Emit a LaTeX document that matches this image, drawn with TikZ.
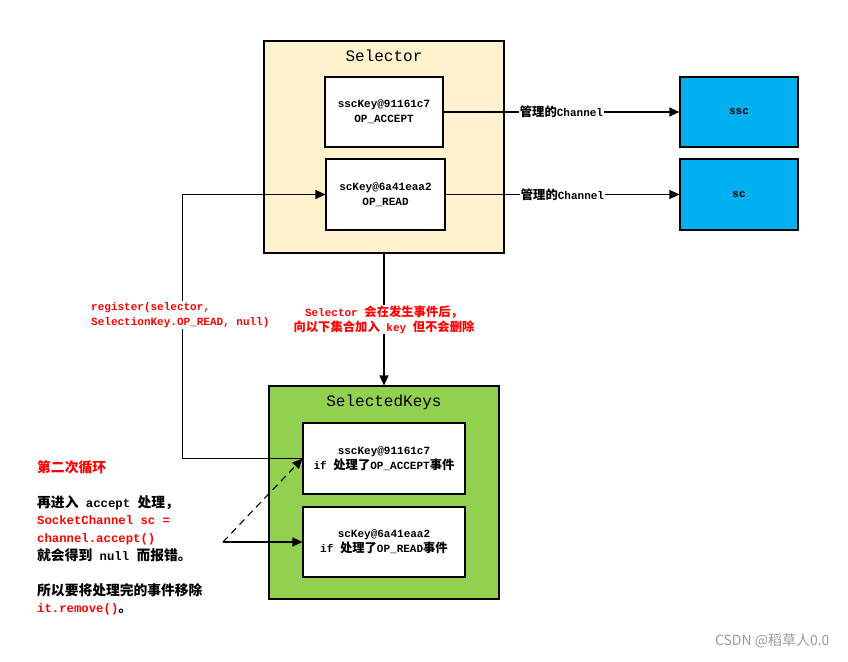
\documentclass[tikz,border=0pt]{standalone}
\usepackage{fontspec}
\setmainfont{Liberation Mono}
\newfontfamily\cjk{Noto Sans CJK SC}[Scale=1.12]
\newfontfamily\wmfont{Noto Sans CJK SC}
\usetikzlibrary{arrows.meta}
\definecolor{selbg}{HTML}{FFF2CC}
\definecolor{keysbg}{HTML}{92D050}
\definecolor{chbg}{HTML}{00B0F0}
\definecolor{redtxt}{HTML}{FF0000}
\newcommand\zh[1]{{\cjk #1}}
\begin{document}
\begin{tikzpicture}[x=1pt,y=-1pt,
  box/.style={draw=black, line width=1.1pt, inner sep=0pt},
  keybox/.style={box, fill=white, align=center, font=\fontsize{11}{15}\selectfont\bfseries},
  chbox/.style={box, fill=chbg, minimum width=118pt, minimum height=70pt, font=\fontsize{11}{15}\selectfont\bfseries},
  contbox/.style={box},
  ttl/.style={font=\fontsize{16}{18}\selectfont, inner sep=0pt},
  arr/.style={line width=1.1pt, -{Triangle[length=10pt,width=9pt]}},
  lbl/.style={fill=white, inner sep=1pt, font=\fontsize{11}{15}\selectfont\bfseries},
  redlbl/.style={fill=white, inner sep=1pt, text=redtxt, font=\fontsize{11}{15}\selectfont\bfseries},
]
\useasboundingbox (0,0) rectangle (848,661);

% Selector container
\node[contbox, fill=selbg, minimum width=240pt, minimum height=212pt] (sel) at (384,147) {};
\node[ttl] (seltitle) at (384,56) {Selector};
\node[keybox, minimum width=118pt, minimum height=70pt] (ssck) at (384,112) {sscKey@91161c7\\OP\_ACCEPT};
\node[keybox, minimum width=119pt, minimum height=71pt] (sck) at (385.5,194.5) {scKey@6a41eaa2\\OP\_READ};

% Channels
\node[chbox] (ssc) at (739,112) {ssc};
\node[chbox, minimum height=71pt] (sc) at (739,194.5) {sc};

% SelectedKeys container
\node[contbox, fill=keysbg, minimum width=230pt, minimum height=213pt] (selk) at (384,492.5) {};
\node[ttl] (selktitle) at (384,402) {SelectedKeys};
\node[keybox, minimum width=162pt, minimum height=71pt] (ssck2) at (384,458.5) {sscKey@91161c7\\if \zh{处理了}OP\_ACCEPT\zh{事件}};
\node[keybox, minimum width=162pt, minimum height=70pt] (sck2) at (384,542) {scKey@6a41eaa2\\if \zh{处理了}OP\_READ\zh{事件}};

% Channel arrows
\draw[arr] (ssck) -- node[lbl] {\zh{管理的}Channel} (ssc);
\draw[arr] (sck) -- node[lbl] {\zh{管理的}Channel} (sc);

% Selector -> SelectedKeys
\draw[arr] (sel) -- node[redlbl, align=center] {Selector \zh{会在发生事件后，}\\\zh{向以下集合加入} key \zh{但不会删除}} (selk);

% register loop
\draw[arr] (ssck2.west) -- ++(-120,0) coordinate (regcorner) |- (sck.west);
\node[redlbl, align=left, anchor=west] (reglbl) at (90,315) {register(selector,\\SelectionKey.OP\_READ, null)};

% note arrows
\coordinate (src) at (223,542);
\draw[arr, dash pattern=on 7pt off 5pt] (src) -- (ssck2.west);
\draw[arr] (src) -- (sck2.west);

% left note
\node[anchor=north west, align=left, inner sep=0pt, font=\fontsize{12.3}{17.6}\selectfont\bfseries] (note) at (37,460)
 {\textcolor{redtxt}{\zh{第二次循环}}\\[17.6pt]
  \zh{再进入} accept \zh{处理，}\\
  \textcolor{redtxt}{SocketChannel sc =}\\
  \textcolor{redtxt}{channel.accept()}\\
  \zh{就会得到} null \zh{而报错。}\\[17.6pt]
  \zh{所以要将处理完的事件移除}\\
  \textcolor{redtxt}{it.remove()}\zh{。}};

% watermark
\node[text=gray!80, font=\wmfont\fontsize{14}{16}\selectfont, anchor=east] (wm) at (833,641) {CSDN @稻草人0.0};
\end{tikzpicture}
\end{document}
